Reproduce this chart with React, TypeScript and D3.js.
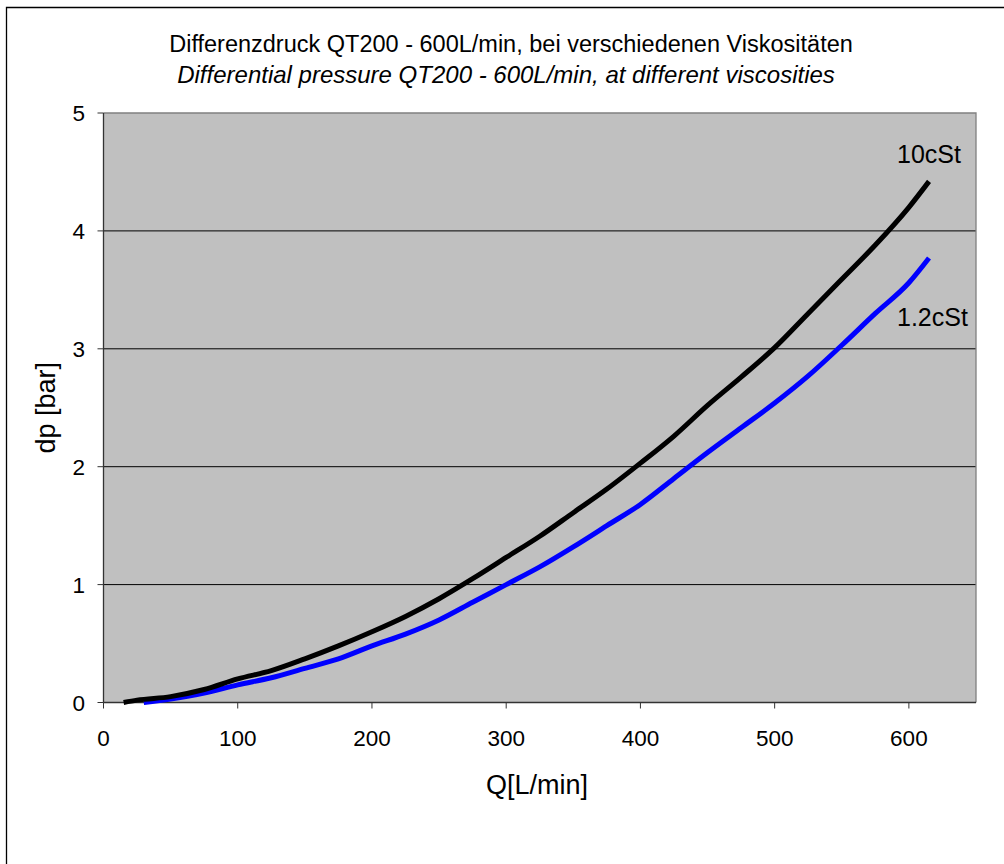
import React from "react";
import * as d3 from "d3";

const q10 = [15, 25, 50, 75, 100, 125, 150, 175, 200, 225, 250, 275, 300, 325, 350, 375, 400, 425, 450, 475, 500, 525, 550, 575, 600, 615];
const dp10 = [0.0, 0.02, 0.05, 0.11, 0.2, 0.27, 0.37, 0.48, 0.6, 0.73, 0.88, 1.05, 1.23, 1.41, 1.61, 1.81, 2.03, 2.26, 2.52, 2.76, 3.01, 3.3, 3.59, 3.88, 4.2, 4.42];
const q12 = [30, 50, 75, 100, 125, 150, 175, 200, 225, 250, 275, 300, 325, 350, 375, 400, 425, 450, 475, 500, 525, 550, 575, 600, 615];
const dp12 = [0.0, 0.03, 0.08, 0.15, 0.21, 0.29, 0.37, 0.48, 0.58, 0.7, 0.85, 1.0, 1.15, 1.32, 1.5, 1.68, 1.9, 2.12, 2.33, 2.54, 2.77, 3.03, 3.3, 3.56, 3.77];
const xTicks = [0, 100, 200, 300, 400, 500, 600];
const yTicks = [0, 1, 2, 3, 4, 5];
const title1 = "Differenzdruck QT200 - 600L/min, bei verschiedenen Viskositäten";
const title2 = "Differential pressure QT200 - 600L/min, at different viscosities";
const seriesNames = ["10cSt", "1.2cSt"];

const W = 1004, H = 864;
const L = 103.5, R = 976, T = 113, B = 702.5;
const FONT = "Arial, 'Liberation Sans', sans-serif";

export default function App() {
  const x = d3.scaleLinear().domain([0, 650]).range([L, R]);
  const y = d3.scaleLinear().domain([0, 5]).range([B, T]);
  const line = d3.line<[number, number]>().x(d => x(d[0])).y(d => y(d[1])).curve(d3.curveMonotoneX);
  const s10 = q10.map((q, i) => [q, dp10[i]] as [number, number]);
  const s12 = q12.map((q, i) => [q, dp12[i]] as [number, number]);
  return (
    <svg width={W} height={H} style={{ position: "absolute", left: 0, top: 0, background: "#fff" }} fontFamily={FONT}>
      <path d={`M6.5,${H} V7.5 H${W}`} fill="none" stroke="#000" strokeWidth={1.3} />
      <text x={511} y={52} textAnchor="middle" fontSize={23.5} fill="#000">{title1}</text>
      <text x={506} y={83} textAnchor="middle" fontSize={24} fontStyle="italic" fill="#000">{title2}</text>
      <rect x={L} y={T} width={R - L} height={B - T} fill="#C0C0C0" />
      {yTicks.filter(t => t > 0 && t < 5).map(t => (
        <line key={t} x1={L} x2={R} y1={y(t)} y2={y(t)} stroke="#000" strokeWidth={1} />
      ))}
      <path d={`M${L},${T} H${R} V${B}`} fill="none" stroke="#808080" strokeWidth={1.3} />
      <line x1={L} x2={L} y1={T} y2={B} stroke="#333" strokeWidth={1.3} />
      <line x1={L} x2={R} y1={B} y2={B} stroke="#333" strokeWidth={1.3} />
      {yTicks.map(t => (
        <g key={t}>
          <line x1={L - 6} x2={L} y1={y(t)} y2={y(t)} stroke="#333" strokeWidth={1} />
          <text x={85} y={y(t)} dy="0.36em" textAnchor="end" fontSize={22.5}>{t}</text>
        </g>
      ))}
      {xTicks.map(t => (
        <g key={t}>
          <line x1={x(t)} x2={x(t)} y1={B} y2={B + 6} stroke="#333" strokeWidth={1} />
          <text x={x(t)} y={746} textAnchor="middle" fontSize={22.5}>{t}</text>
        </g>
      ))}
      <path d={line(s12) || ""} fill="none" stroke="#0000FF" strokeWidth={5} strokeLinejoin="round" />
      <path d={line(s10) || ""} fill="none" stroke="#000" strokeWidth={5} strokeLinejoin="round" />
      <text x={897} y={163} fontSize={25}>{seriesNames[0]}</text>
      <text x={897} y={326} fontSize={25}>{seriesNames[1]}</text>
      <text x={537} y={794} textAnchor="middle" fontSize={27}>Q[L/min]</text>
      <text transform={`translate(55,${(T + B) / 2}) rotate(-90)`} textAnchor="middle" fontSize={27}>dp [bar]</text>
    </svg>
  );
}
